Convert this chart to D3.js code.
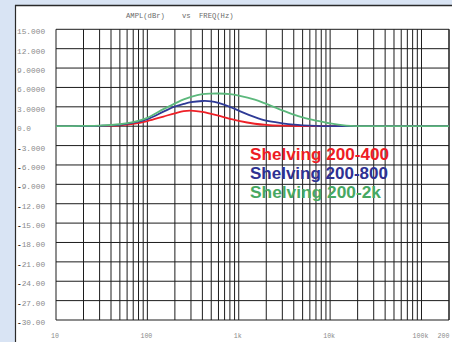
<!DOCTYPE html>
<html>
<head>
<meta charset="utf-8">
<script src="https://cdn.jsdelivr.net/npm/d3@7"></script>
<style>
  html, body { margin: 0; padding: 0; background: #ffffff; }
  svg { display: block; }
</style>
</head>
<body>
<script>
// Frequency sample points (Hz) and the amplitude response of each filter (dBr)
const freqs = [10, 20, 30, 50, 70, 100, 150, 200, 250, 300, 400, 500, 600, 800,
               1000, 1500, 2000, 3000, 4000, 5000, 7000, 10000, 15000, 20000,
               50000, 100000, 200000];
const red400 = [0, 0.01, 0.04, 0.13, 0.35, 0.8, 1.5, 2.0, 2.35, 2.42, 2.22, 1.9, 1.62, 1.15,
                0.82, 0.38, 0.2, 0.08, 0.04, 0.02, 0.01, 0, 0, 0, 0, 0, 0];
const blue800 = [0, 0.02, 0.06, 0.22, 0.55, 1.1, 2.25, 3.05, 3.45, 3.72, 3.9, 3.85, 3.6, 3.0,
                 2.4, 1.4, 0.85, 0.45, 0.24, 0.14, 0.05, 0.01, 0, 0, 0, 0, 0];
const green2k = [0, 0.04, 0.1, 0.3, 0.62, 1.3, 2.65, 3.5, 4.15, 4.55, 4.97, 5.05, 5.06, 4.95,
                 4.72, 4.1, 3.45, 2.45, 1.8, 1.38, 0.88, 0.42, 0.1, 0.02, 0, 0, 0];

const seriesNames = ["Shelving 200-400", "Shelving 200-800", "Shelving 200-2k"];
const seriesColors = ["#ee2027", "#2e3a96", "#5cb87c"];
const textColors = ["#ee1c24", "#2e3192", "#47a862"];

const yTicks = [15, 12, 9, 6, 3, 0, -3, -6, -9, -12, -15, -18, -21, -24, -27, -30];
const yTickLabels = ["15.000", "12.000", "9.0000", "6.0000", "3.0000", "0.0", "-3.000",
                     "-6.000", "-9.000", "-12.00", "-15.00", "-18.00", "-21.00", "-24.00",
                     "-27.00", "-30.00"];
const xTicks = [10, 100, 1000, 10000, 100000, 200000];
const xTickLabels = ["10", "100", "1k", "10k", "100k", "200"];

const W = 452, H = 342;
const plot = { left: 56, right: 449, top: 29.3, bottom: 320 };

const svg = d3.select("body").append("svg").attr("width", W).attr("height", H);

// window chrome: light blue strips with dark edges
svg.append("rect").attr("x", 0).attr("y", 0).attr("width", W).attr("height", H).attr("fill", "#ffffff");
svg.append("rect").attr("x", 0).attr("y", 0).attr("width", W).attr("height", 5).attr("fill", "#d9e4f4");
svg.append("rect").attr("x", 0).attr("y", 0).attr("width", 15).attr("height", H).attr("fill", "#d9e4f4");
svg.append("line").attr("x1", 15.5).attr("x2", 15.5).attr("y1", 5).attr("y2", H)
  .attr("stroke", "#2a2a2a").attr("stroke-width", 1.2);
svg.append("line").attr("x1", 15).attr("x2", W).attr("y1", 5.5).attr("y2", 5.5)
  .attr("stroke", "#2a2a2a").attr("stroke-width", 1.4);

const x = d3.scaleLog().domain([10, 200000]).range([plot.left, plot.right]);
const y = d3.scaleLinear().domain([-30, 15]).range([plot.bottom, plot.top]);

// vertical grid: every 1..9 multiple in each decade
const gridFreqs = [];
for (let dec = 10; dec <= 100000; dec *= 10) {
  for (let m = 1; m <= 9; m++) gridFreqs.push(dec * m);
}
gridFreqs.push(200000);

const grid = svg.append("g").attr("stroke", "#1c1c1c").attr("stroke-width", 1);
grid.selectAll("line.v").data(gridFreqs).join("line")
  .attr("class", "v")
  .attr("x1", d => x(d)).attr("x2", d => x(d))
  .attr("y1", plot.top).attr("y2", plot.bottom);
grid.selectAll("line.h").data(yTicks).join("line")
  .attr("class", "h")
  .attr("x1", plot.left).attr("x2", plot.right)
  .attr("y1", d => y(d)).attr("y2", d => y(d));

// title
const titleFont = "'Liberation Mono', 'DejaVu Sans Mono', monospace";
const title = svg.append("g").attr("font-family", titleFont).attr("font-size", 7.2)
  .attr("fill", "#6a6a6a");
title.append("text").attr("x", 126).attr("y", 18).text("AMPL(dBr)");
title.append("text").attr("x", 182).attr("y", 18).text("vs");
title.append("text").attr("x", 199).attr("y", 18).text("FREQ(Hz)");

// y tick labels
const yl = svg.append("g").attr("font-family", titleFont).attr("font-size", 7.8)
  .attr("fill", "#8a8a8a");
yTicks.forEach((v, i) => {
  const lab = yTickLabels[i];
  const t = yl.append("text").attr("x", 17).attr("y", y(v) + 5);
  if (lab.startsWith("-")) {
    t.append("tspan").attr("fill", "#222").attr("font-weight", "bold").text("-");
    t.append("tspan").text(lab.slice(1));
  } else {
    t.text(lab);
  }
});

// x tick labels
const xl = svg.append("g").attr("font-family", titleFont).attr("font-size", 6.6)
  .attr("fill", "#8a8a8a");
xTicks.forEach((v, i) => {
  const last = i === xTicks.length - 1;
  xl.append("text")
    .attr("x", last ? 437.5 : x(v) - 1)
    .attr("y", 338)
    .attr("text-anchor", last ? "start" : "middle")
    .text(xTickLabels[i]);
});

// response curves
const line = d3.line()
  .x(d => x(d[0]))
  .y(d => y(d[1]))
  .curve(d3.curveCatmullRom.alpha(0.5));

const seriesData = [red400, blue800, green2k];
// red first, green last, so green sits on top where the curves meet at 0 dB
[0, 1, 2].forEach(k => {
  svg.append("path")
    .datum(freqs.map((f, i) => [f, seriesData[k][i]]))
    .attr("fill", "none")
    .attr("stroke", seriesColors[k])
    .attr("stroke-width", 1.8)
    .attr("d", line);
});

// legend labels
const legendBase = [160, 179.3, 198.3];
const legendWidth = [139, 138, 131];
seriesNames.forEach((name, i) => {
  svg.append("text")
    .attr("x", 250)
    .attr("y", legendBase[i])
    .attr("font-family", "'Liberation Sans', Arial, sans-serif")
    .attr("font-weight", "bold")
    .attr("font-size", 16.3)
    .attr("fill", textColors[i])
    .attr("textLength", legendWidth[i])
    .attr("lengthAdjust", "spacingAndGlyphs")
    .text(name);
});
</script>
</body>
</html>
